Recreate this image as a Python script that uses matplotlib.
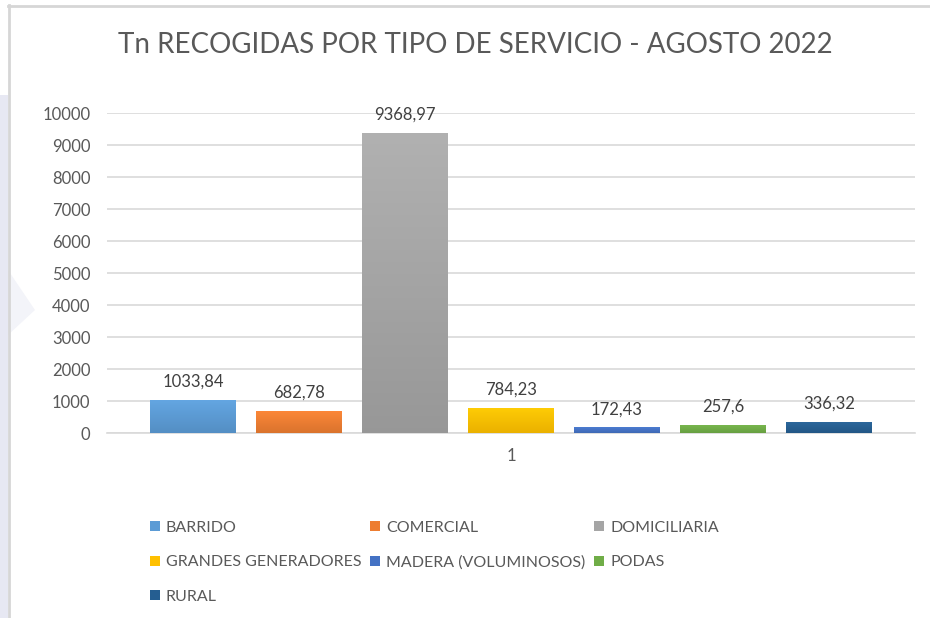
import matplotlib
matplotlib.use("Agg")
import matplotlib.pyplot as plt
import numpy as np
from matplotlib.patches import Rectangle, Polygon
from matplotlib.lines import Line2D
from matplotlib.colors import to_rgb

# data
categories = ["BARRIDO", "COMERCIAL", "DOMICILIARIA", "GRANDES GENERADORES",
              "MADERA (VOLUMINOSOS)", "PODAS", "RURAL"]
values = [1033.84, 682.78, 9368.97, 784.23, 172.43, 257.6, 336.32]
labels = ["1033,84", "682,78", "9368,97", "784,23", "172,43", "257,6", "336,32"]
colors = ["#5B9BD5", "#ED7D31", "#A5A5A5", "#FFC000", "#4472C4", "#70AD47", "#255E91"]
yticks = [0, 1000, 2000, 3000, 4000, 5000, 6000, 7000, 8000, 9000, 10000]

plt.rcParams['font.family'] = ['Lato', 'DejaVu Sans']

W, H = 930, 618
fig = plt.figure(figsize=(W/100, H/100), dpi=100)

# frame / background decoration
fig.patches.append(Rectangle((0, 0), 8/W, 1-95/H, transform=fig.transFigure,
                             facecolor="#E7E8F3", edgecolor="none", zorder=0))
fig.patches.append(Polygon([(8/W, 1-270/H), (35/W, 1-310/H), (8/W, 1-335/H)],
                           closed=True, transform=fig.transFigure,
                           facecolor="#F3F4F9", edgecolor="none", zorder=0))
fig.add_artist(Line2D([8.5/W, 8.5/W], [0, 1-5/H], transform=fig.transFigure,
                      color="#D6D6D6", lw=2))
fig.add_artist(Line2D([8/W, 1], [1-5.5/H, 1-5.5/H], transform=fig.transFigure,
                      color="#D6D6D6", lw=2))

ax = fig.add_axes([107/W, 1-433/H, 808/W, 320/H])

step = 106/808
width = 86/808
x0 = 1.0
for i, (v, c) in enumerate(zip(values, colors)):
    xc = x0 + (i-3)*step
    bars = ax.bar(xc, v, width=width, color=c, zorder=3, label=categories[i])
    # soft vertical gradient like the office chart style
    rgb = np.array(to_rgb(c))
    top = np.clip(rgb*1.04 + 0.02, 0, 1)
    bot = rgb*0.92
    t = np.linspace(0, 1, 64)[:, None, None]
    grad = top*(1-t) + bot*t
    im = ax.imshow(grad, extent=(xc-width/2, xc+width/2, 0, v), aspect="auto",
                   origin="upper", zorder=3.5, interpolation="bilinear")
    im.set_clip_path(bars[0])
    ax.text(xc, v + 320, labels[i], ha="center", va="bottom",
            fontsize=12, color="#404040")

ax.set_xlim(0.5, 1.5)
ax.set_ylim(0, 10000)
ax.set_yticks(yticks)
ax.set_yticklabels([str(t) for t in yticks])
ax.set_xticks([1])
ax.set_xticklabels(["1"])
ax.tick_params(axis="y", length=0, pad=12, labelsize=12, labelcolor="#595959")
ax.tick_params(axis="x", length=0, pad=11, labelsize=12, labelcolor="#595959")
ax.grid(axis="y", color="#D9D9D9", lw=1.2, zorder=0)
for s in ["left", "right", "top"]:
    ax.spines[s].set_visible(False)
ax.spines["bottom"].set_color("#D9D9D9")
ax.spines["bottom"].set_linewidth(1.2)

fig.text(475/W, 1-45/H, "Tn RECOGIDAS POR TIPO DE SERVICIO - AGOSTO 2022",
         ha="center", va="center", fontsize=20, color="#595959")

# legend, ordered so that columns fill like the original rows
handles = [Rectangle((0, 0), 1, 1, facecolor=c) for c in colors]
order = [0, 3, 6, 1, 4, 2, 5]
fig.legend([handles[k] for k in order], [categories[k] for k in order],
           loc="upper left", bbox_to_anchor=(150/W, 1-521/H), ncol=3,
           frameon=False, fontsize=11.5, labelcolor="#595959",
           handlelength=0.6, handleheight=0.6, handletextpad=0.4,
           columnspacing=0.55, labelspacing=1.28, borderaxespad=0, borderpad=0)

fig.savefig("out.png", dpi=100)
